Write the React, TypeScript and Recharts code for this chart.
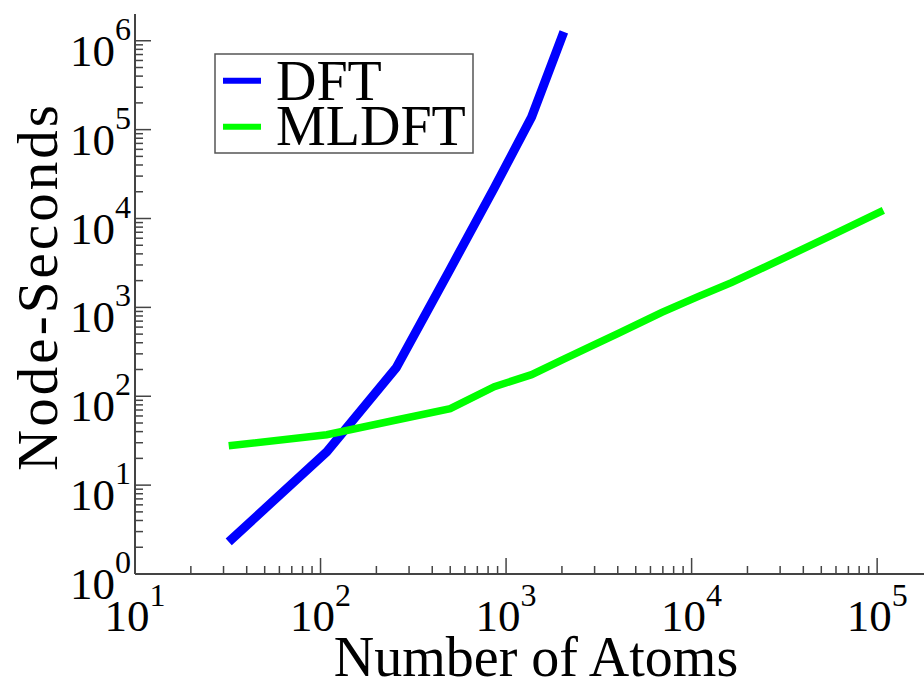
import React from 'react';
import { LineChart, Line, XAxis, YAxis, Legend } from 'recharts';

// DFT cost
const dftAtoms = [32, 108, 256, 500, 864, 1372, 2048];
const dftSeconds = [2.3, 23.7, 210, 2700, 22100, 138000, 1260000];

// ML-DFT cost
const mldftAtoms = [32, 108, 256, 500, 864, 1372, 2048, 2916, 4000, 6912, 10976, 16384, 32000, 55296, 108000];
const mldftSeconds = [27.7, 36.9, 54, 72.5, 128, 175, 262, 372, 508, 880, 1340, 1900, 3655, 6300, 12370];

// axis decades and their exponent labels
const xDecades = [10, 100, 1000, 10000, 100000];
const xExponents = ['1', '2', '3', '4', '5'];
const yDecades = [1, 10, 100, 1000, 10000, 100000, 1000000];
const yExponents = ['0', '1', '2', '3', '4', '5', '6'];
const minorSteps = [2, 3, 4, 5, 6, 7, 8, 9];

const X_MAX = 200000;
const Y_MAX = 2000000;

const FONT = '"Liberation Serif", "Times New Roman", serif';
const AXIS = '#444';

const dftData = dftAtoms.map((atoms, i) => ({ atoms, seconds: dftSeconds[i] }));
const mldftData = mldftAtoms.map((atoms, i) => ({ atoms, seconds: mldftSeconds[i] }));

function withMinor(decades: number[], max: number) {
  const out: number[] = [];
  decades.forEach(d => {
    out.push(d);
    minorSteps.forEach(m => {
      if (d * m < max) out.push(d * m);
    });
  });
  return out;
}

const xTicks = withMinor(xDecades, X_MAX);
const yTicks = withMinor(yDecades, Y_MAX);

const BottomTick = ({ x, y, payload }: any) => {
  const i = xDecades.indexOf(payload.value);
  const major = i >= 0;
  return (
    <g>
      <line x1={x} x2={x} y1={y} y2={y - (major ? 16 : 8)} stroke={AXIS} strokeWidth={1.5} />
      {major && (
        <text x={x} y={y + 57} textAnchor="middle" fontFamily={FONT} fontSize={45} fill="#000">
          10<tspan dy={-25} fontSize={32}>{xExponents[i]}</tspan>
        </text>
      )}
    </g>
  );
};

const TopTick = ({ x, y, payload }: any) => {
  const major = xDecades.includes(payload.value);
  return <line x1={x} x2={x} y1={y} y2={y + (major ? 16 : 8)} stroke={AXIS} strokeWidth={1.5} />;
};

const LeftTick = ({ x, y, payload }: any) => {
  const i = yDecades.indexOf(payload.value);
  const major = i >= 0;
  return (
    <g>
      <line x1={x} x2={x + (major ? 16 : 8)} y1={y} y2={y} stroke={AXIS} strokeWidth={1.5} />
      {major && (
        <text x={x - 4} y={y + 25} textAnchor="end" fontFamily={FONT} fontSize={45} fill="#000">
          10<tspan dy={-26} fontSize={32}>{yExponents[i]}</tspan>
        </text>
      )}
    </g>
  );
};

const RightTick = ({ x, y, payload }: any) => {
  const major = yDecades.includes(payload.value);
  return <line x1={x} x2={x - (major ? 16 : 8)} y1={y} y2={y} stroke={AXIS} strokeWidth={1.5} />;
};

const XTitle = ({ viewBox }: any) => {
  const vb = viewBox || { x: 135, y: 574, width: 798, height: 108 };
  return (
    <text x={vb.x + vb.width / 2 + 2} y={vb.y + 102} textAnchor="middle" fontFamily={FONT} fontSize={56} fill="#000">
      Number of Atoms
    </text>
  );
};

const YTitle = ({ viewBox }: any) => {
  const vb = viewBox || { x: 0, y: 14, width: 135, height: 560 };
  const cx = vb.x + 57;
  const cy = vb.y + vb.height / 2 - 6;
  return (
    <text
      x={cx}
      y={cy}
      transform={`rotate(-90, ${cx}, ${cy})`}
      textAnchor="middle"
      fontFamily={FONT}
      fontSize={57}
      textLength={366}
      lengthAdjust="spacing"
      fill="#000"
    >
      Node-Seconds
    </text>
  );
};

const LegendBox = ({ payload }: any) => (
  <svg width={262} height={102} style={{ display: 'block' }}>
    <rect x={1} y={1} width={258} height={99} fill="#fff" stroke="#555" strokeWidth={1.5} />
    {(payload || []).map((p: any, i: number) => (
      <g key={p.value}>
        <line x1={9} x2={47} y1={27.7 + i * 46} y2={27.7 + i * 46} stroke={p.color} strokeWidth={6} />
        <text x={62} y={47 + i * 45} fontFamily={FONT} fontSize={56} fill="#000">
          {p.value}
        </text>
      </g>
    ))}
  </svg>
);

export default function App() {
  return (
    <div style={{ position: 'absolute', left: 0, top: 0, width: 924, height: 682, overflow: 'hidden', background: '#fff' }}>
      <LineChart width={940} height={682} margin={{ top: 14, right: 7, bottom: 0, left: 0 }}>
        <XAxis
          xAxisId="b"
          dataKey="atoms"
          type="number"
          scale="log"
          domain={[10, X_MAX]}
          allowDataOverflow
          ticks={xTicks}
          interval={0}
          tick={<BottomTick />}
          tickLine={false}
          tickSize={0}
          tickMargin={0}
          height={108}
          axisLine={{ stroke: AXIS, strokeWidth: 2 }}
          label={<XTitle />}
        />
        <XAxis
          xAxisId="t"
          orientation="top"
          dataKey="atoms"
          type="number"
          scale="log"
          domain={[10, X_MAX]}
          allowDataOverflow
          ticks={xTicks}
          interval={0}
          tick={<TopTick />}
          tickLine={false}
          tickSize={0}
          tickMargin={0}
          height={0}
          axisLine={{ stroke: AXIS, strokeWidth: 2 }}
        />
        <YAxis
          yAxisId="l"
          type="number"
          scale="log"
          domain={[1, Y_MAX]}
          allowDataOverflow
          ticks={yTicks}
          interval={0}
          tick={<LeftTick />}
          tickLine={false}
          tickSize={0}
          tickMargin={0}
          width={135}
          axisLine={{ stroke: AXIS, strokeWidth: 2 }}
          label={<YTitle />}
        />
        <YAxis
          yAxisId="r"
          orientation="right"
          type="number"
          scale="log"
          domain={[1, Y_MAX]}
          allowDataOverflow
          ticks={yTicks}
          interval={0}
          tick={<RightTick />}
          tickLine={false}
          tickSize={0}
          tickMargin={0}
          width={0}
          axisLine={{ stroke: AXIS, strokeWidth: 2 }}
        />
        <Legend
          layout="vertical"
          align="center"
          verticalAlign="middle"
          wrapperStyle={{ left: 214, top: 53, width: 262, height: 102 }}
          content={<LegendBox />}
        />
        <Line
          xAxisId="b"
          yAxisId="l"
          data={dftData}
          dataKey="seconds"
          name="DFT"
          type="linear"
          stroke="#0000ff"
          strokeWidth={9}
          dot={false}
          isAnimationActive={false}
        />
        <Line
          xAxisId="b"
          yAxisId="l"
          data={mldftData}
          dataKey="seconds"
          name="MLDFT"
          type="linear"
          stroke="#00ff00"
          strokeWidth={7.5}
          dot={false}
          isAnimationActive={false}
        />
      </LineChart>
    </div>
  );
}
